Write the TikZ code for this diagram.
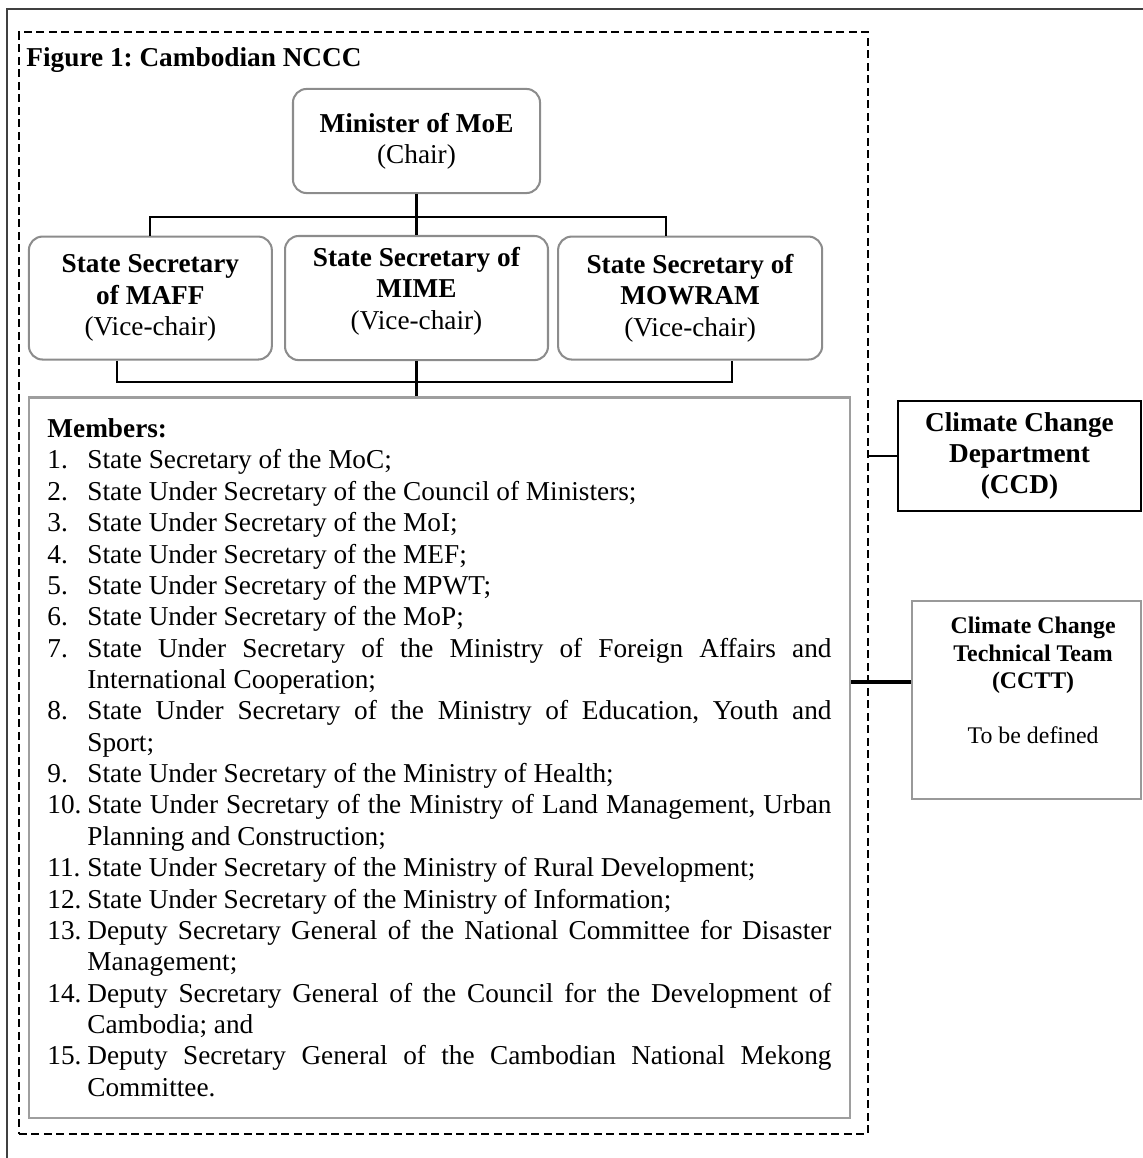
\documentclass[tikz,border=0pt]{standalone}
\usepackage{fontspec}
\setmainfont{Liberation Serif}
\frenchspacing
\newcommand{\boxfont}{\fontsize{12pt}{13.8pt}\selectfont}
\newcommand{\teamfont}{\fontsize{10.5pt}{12pt}\selectfont}
\newcounter{membno}
\newenvironment{memberlist}{\begin{list}{\arabic{membno}.}{\usecounter{membno}%
    \setlength{\leftmargin}{17.6pt}\setlength{\labelwidth}{17.6pt}%
    \setlength{\labelsep}{0pt}\setlength{\itemsep}{0pt}\setlength{\parsep}{0pt}%
    \setlength{\topsep}{0pt}\setlength{\partopsep}{0pt}%
    \renewcommand{\makelabel}[1]{##1\hfil}}}{\end{list}}
\tikzstyle{roundbox} = [rectangle, rounded corners=6pt, draw=black!45, line width=0.9pt, align=center, font=\boxfont]
\tikzstyle{memberbox} = [rectangle, draw=black!38, line width=1.2pt, minimum width=361.2pt, minimum height=317.2pt, inner xsep=8.1pt, font=\boxfont]
\tikzstyle{deptbox} = [rectangle, draw=black, line width=1.2pt, minimum width=106.9pt, minimum height=48.4pt, align=center, font=\boxfont\bfseries]
\tikzstyle{teambox} = [rectangle, draw=black!40, line width=1pt, minimum width=100.8pt, minimum height=87.1pt]
\tikzstyle{dashframe} = [rectangle, draw=black, dash pattern=on 3.5pt off 2pt, line width=0.7pt, minimum width=373.6pt, minimum height=484.9pt]
\tikzstyle{link} = [line width=0.9pt]
\tikzstyle{heavylink} = [line width=2pt]

\begin{document}
\begin{tikzpicture}[x=0.44pt, y=-0.44pt, node distance=69.1pt]
    \useasboundingbox (0,0) rectangle (1143,1158);
    \draw[line width=1pt, black!75] (1143,9) -- (7,9) -- (7,1158);
    \node (nccc) [dashframe] at (443.5,583) {};
    \node (title) [anchor=base west, inner sep=0pt, font=\boxfont\bfseries] at (26,66) {Figure 1: Cambodian NCCC};

    \node (chair) [roundbox, minimum width=108.7pt, minimum height=45.8pt] at (416.5,141) {\textbf{Minister of MoE}\\(Chair)};
    \node (mime) [roundbox, below of=chair, minimum width=115.7pt, minimum height=54.6pt] {\textbf{State Secretary of}\\\textbf{MIME}\\(Vice-chair)\\[-5pt]};
    \node (maff) [roundbox, left of=mime, xshift=-48pt, minimum width=106.9pt, minimum height=54.1pt] {\textbf{State Secretary}\\\textbf{of MAFF}\\(Vice-chair)};
    \node (mowram) [roundbox, right of=mime, xshift=51.3pt, minimum width=116.2pt, minimum height=54.1pt] {\textbf{State Secretary of}\\\textbf{MOWRAM}\\(Vice-chair)};

    \node (members) [memberbox, below of=mime, xshift=10.1pt, yshift=-133.1pt] {\begin{minipage}{345pt}
        \parskip=0pt \hyphenpenalty=10000 \tolerance=9999
        \textbf{Members:}
        \begin{memberlist}
        \item State Secretary of the MoC;
        \item State Under Secretary of the Council of Ministers;
        \item State Under Secretary of the MoI;
        \item State Under Secretary of the MEF;
        \item State Under Secretary of the MPWT;
        \item State Under Secretary of the MoP;
        \item State Under Secretary of the Ministry of Foreign Affairs and\linebreak International Cooperation;
        \item State Under Secretary of the Ministry of Education, Youth and\linebreak Sport;
        \item State Under Secretary of the Ministry of Health;
        \item State Under Secretary of the Ministry of Land Management, Urban\linebreak Planning and Construction;
        \item State Under Secretary of the Ministry of Rural Development;
        \item State Under Secretary of the Ministry of Information;
        \item Deputy Secretary General of the National Committee for Disaster\linebreak Management;
        \item Deputy Secretary General of the Council for the Development of\linebreak Cambodia; and
        \item Deputy Secretary General of the Cambodian National Mekong\linebreak Committee.
        \end{memberlist}
        \end{minipage}};

    \node (ccd) [deptbox] at (1019.5,456) {Climate Change\\Department\\(CCD)};
    \node (cctt) [teambox] at (1026.5,700) {};
    \node (ccttlabel) [anchor=north, inner sep=0pt, align=center, font=\teamfont] at ([xshift=2.9pt, yshift=-7.5pt]cctt.north) {\textbf{Climate Change}\\\textbf{Technical Team}\\\textbf{(CCTT)}\\[12pt]To be defined};

    % chair to vice-chairs
    \draw[link] (chair.south) -- ++(0,23) coordinate (upperbar);
    \draw[link] (maff.north) |- (upperbar) -| ([xshift=-10.6pt]mowram.north);
    \draw[link] (upperbar) -- (upperbar |- mime.north);
    % vice-chairs to members
    \draw[link] (mime.south) -- ++(0,21) coordinate (lowerbar);
    \draw[link] ([xshift=-14.7pt]maff.south) |- (lowerbar) -| ([xshift=18.5pt]mowram.south);
    \draw[link] (lowerbar) -- (lowerbar |- members.north);
    % side bodies
    \draw[link] (ccd.west) -- (ccd.west -| nccc.east);
    \draw[heavylink] ([yshift=7.9pt]cctt.west) -- ([yshift=7.9pt]cctt.west -| members.east);
\end{tikzpicture}
\end{document}
